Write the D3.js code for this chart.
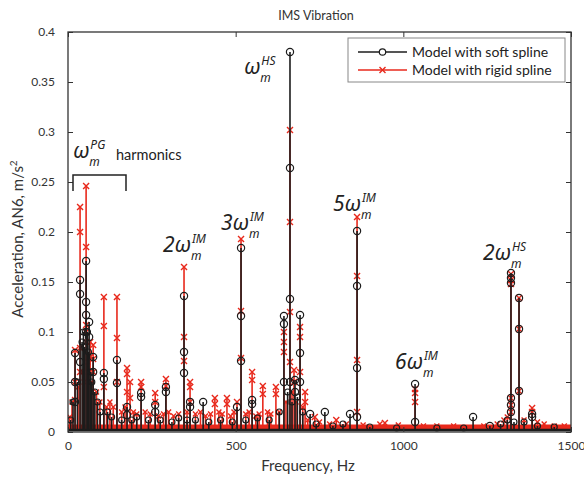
<!DOCTYPE html>
<html>
<head>
<meta charset="utf-8">
<script src="https://cdn.jsdelivr.net/npm/d3@7"></script>
<style>
    body { margin: 0; background: #fff; }
    svg { display: block; font-family: Lato, "Noto Sans", sans-serif; }
</style>
</head>
<body>
<div id="chart"></div>
<script>
// Axis ticks
const xTicks = [0, 500, 1000, 1500];
const yTicks = [0, 0.05, 0.1, 0.15, 0.2, 0.25, 0.3, 0.35, 0.4];

// Model with soft spline: stem frequency (Hz) and marker levels along each stem
const softHz = [21, 36, 54, 63, 75, 107, 146, 176, 218, 260, 292, 346, 364, 403, 504, 516, 549,
    644, 662, 677, 692, 722, 766, 841, 862, 1035, 1208, 1258, 1321, 1345, 1384];
const softLevels = [
    [0.079, 0.05, 0.03], [0.152, 0.138, 0.07], [0.171, 0.13, 0.117, 0.1], [0.11, 0.095],
    [0.075, 0.06], [0.059, 0.053], [0.072, 0.049], [0.025, 0.017], [0.039, 0.035],
    [0.027, 0.02], [0.045, 0.04], [0.136, 0.08, 0.059], [0.03, 0.025], [0.03], [0.025],
    [0.184, 0.116, 0.071], [0.032, 0.028], [0.116, 0.108, 0.05], [0.38, 0.264, 0.133, 0.05],
    [0.052, 0.04], [0.117, 0.079, 0.05], [0.018], [0.02], [0.018], [0.201, 0.146, 0.064, 0.015],
    [0.048, 0.01], [0.015], [0.006], [0.159, 0.154, 0.149, 0.034, 0.027, 0.02],
    [0.134, 0.103, 0.041], [0.018, 0.015]
];

// Model with rigid spline
const rigidHz = [21, 36, 54, 66, 75, 107, 146, 176, 185, 218, 260, 292, 346, 364, 438, 474, 504,
    516, 549, 581, 620, 644, 662, 674, 692, 707, 736, 800, 862, 945, 1035, 1321, 1345, 1384];
const rigidLevels = [
    [0.082, 0.05, 0.032], [0.225, 0.2, 0.084, 0.06], [0.246, 0.185, 0.107, 0.1, 0.09],
    [0.09, 0.075, 0.06], [0.087, 0.073, 0.06], [0.135, 0.106, 0.045], [0.135, 0.094, 0.05],
    [0.064, 0.058, 0.04], [0.05, 0.034], [0.05, 0.045], [0.039, 0.03], [0.053, 0.046],
    [0.165, 0.095, 0.071], [0.05, 0.045, 0.03], [0.034, 0.028], [0.034, 0.028], [0.03],
    [0.193, 0.121, 0.074], [0.06, 0.052], [0.046, 0.038], [0.045, 0.038], [0.1, 0.09, 0.08],
    [0.302, 0.21, 0.12, 0.07], [0.062, 0.05], [0.105, 0.095, 0.06], [0.04, 0.03], [0.015],
    [0.012], [0.215, 0.156, 0.072, 0.02], [0.009], [0.043, 0.039, 0.03],
    [0.158, 0.152, 0.148, 0.034, 0.027, 0.02], [0.134, 0.103, 0.041], [0.024, 0.02]
];

// Spectral floor (small lines between the peaks)
const softNoiseHz = [8, 15, 28, 42, 46, 50, 58, 61, 68, 71, 80, 88, 96, 118, 130, 160, 190, 205,
    240, 275, 310, 330, 355, 380, 420, 455, 490, 530, 565, 600, 630, 655, 668, 684, 700, 740,
    790, 820, 900, 980, 1100, 1180, 1290, 1310, 1330, 1360, 1400, 1450];
const softNoiseAmp = [0.012, 0.03, 0.05, 0.09, 0.1, 0.085, 0.1, 0.08, 0.06, 0.05, 0.04, 0.03,
    0.02, 0.02, 0.015, 0.012, 0.012, 0.015, 0.012, 0.012, 0.01, 0.014, 0.012, 0.012, 0.01,
    0.012, 0.01, 0.012, 0.014, 0.012, 0.02, 0.04, 0.03, 0.035, 0.02, 0.008, 0.006, 0.008,
    0.005, 0.004, 0.004, 0.004, 0.008, 0.012, 0.01, 0.01, 0.006, 0.005];
const rigidNoiseHz = [5, 12, 30, 44, 48, 60, 70, 85, 95, 115, 125, 135, 160, 170, 195, 205, 230,
    245, 270, 285, 300, 315, 330, 355, 380, 395, 410, 425, 450, 460, 485, 495, 530, 540, 560,
    570, 595, 605, 630, 650, 668, 680, 700, 715, 750, 780, 830, 880, 930, 985, 1060, 1100,
    1150, 1240, 1280, 1300, 1310, 1360, 1400, 1420, 1450, 1480];
const rigidNoiseAmp = [0.015, 0.03, 0.045, 0.06, 0.05, 0.07, 0.05, 0.04, 0.03, 0.025, 0.03,
    0.025, 0.02, 0.025, 0.02, 0.018, 0.02, 0.018, 0.016, 0.018, 0.02, 0.016, 0.018, 0.02,
    0.018, 0.02, 0.016, 0.018, 0.02, 0.018, 0.016, 0.02, 0.018, 0.02, 0.016, 0.018, 0.02,
    0.018, 0.02, 0.03, 0.04, 0.03, 0.025, 0.012, 0.01, 0.008, 0.008, 0.007, 0.008, 0.007,
    0.006, 0.006, 0.006, 0.006, 0.008, 0.012, 0.015, 0.012, 0.01, 0.008, 0.006, 0.006];
const softFloor = 0.002;
const rigidFloor = 0.005;

const seriesNames = ["Model with soft spline", "Model with rigid spline"];
const softColor = "#1c1c1c";
const rigidColor = "#e8291c";

const width = 584, height = 477;
const margin = {left: 68, right: 13, top: 32, bottom: 45};

const svg = d3.select("#chart").append("svg")
    .attr("width", width)
    .attr("height", height);

const x = d3.scaleLinear().domain([0, 1500]).range([margin.left, width - margin.right]);
const y = d3.scaleLinear().domain([0, 0.4]).range([height - margin.bottom, margin.top]);

svg.append("clipPath").attr("id", "plotClip")
    .append("rect")
    .attr("x", margin.left).attr("y", margin.top - 2)
    .attr("width", x.range()[1] - margin.left)
    .attr("height", y(0) - margin.top + 4);

const plot = svg.append("g").attr("clip-path", "url(#plotClip)");

function drawMarkers(g, points, color, marker, size)
{
    if (marker === "o") {
        g.append("g").selectAll("circle")
            .data(points)
            .join("circle")
            .attr("cx", d => x(d[0]))
            .attr("cy", d => y(d[1]))
            .attr("r", size)
            .attr("fill", "none")
            .attr("stroke", color)
            .attr("stroke-width", 1.2);
    } else {
        g.append("g").selectAll("path")
            .data(points)
            .join("path")
            .attr("d", d => {
                let cx = x(d[0]), cy = y(d[1]), s = size;
                return `M${cx-s},${cy-s}L${cx+s},${cy+s}M${cx-s},${cy+s}L${cx+s},${cy-s}`;
            })
            .attr("stroke", color)
            .attr("stroke-width", 1.4);
    }
}

function drawSeries(hz, levels, noiseHz, noiseAmp, floor, color, marker)
{
    let g = plot.append("g");

    // Noise floor
    g.append("line")
        .attr("x1", x(0)).attr("x2", x(1500))
        .attr("y1", y(floor)).attr("y2", y(floor))
        .attr("stroke", color)
        .attr("stroke-width", color === rigidColor ? 5 : 2.5);

    g.selectAll("line.noise")
        .data(noiseHz)
        .join("line")
        .attr("class", "noise")
        .attr("x1", d => x(d)).attr("x2", d => x(d))
        .attr("y1", y(floor)).attr("y2", (d, i) => y(noiseAmp[i]))
        .attr("stroke", color)
        .attr("stroke-width", 1.6);

    drawMarkers(g, noiseHz.map((h, i) => [h, noiseAmp[i]]), color, marker, marker === "o" ? 3 : 2.5);

    // Stems
    g.selectAll("line.stem")
        .data(hz)
        .join("line")
        .attr("class", "stem")
        .attr("x1", d => x(d)).attr("x2", d => x(d))
        .attr("y1", y(floor)).attr("y2", (d, i) => y(d3.max(levels[i])))
        .attr("stroke", color)
        .attr("stroke-width", 1.6);

    let points = [];
    hz.forEach((h, i) => levels[i].forEach(v => points.push([h, v])));
    drawMarkers(g, points, color, marker, marker === "o" ? 3.6 : 3);
}

drawSeries(rigidHz, rigidLevels, rigidNoiseHz, rigidNoiseAmp, rigidFloor, rigidColor, "x");
drawSeries(softHz, softLevels, softNoiseHz, softNoiseAmp, softFloor, softColor, "o");

// Axes, MATLAB style: ticks inside on all four sides
const fmt = d => d === 0 ? "0" : String(+d.toFixed(2));
const axisColor = "#333";

const xAxis = svg.append("g")
    .attr("transform", `translate(0,${y(0)})`)
    .call(d3.axisBottom(x).tickValues(xTicks).tickFormat(d3.format("d")).tickSizeInner(-5).tickSizeOuter(0).tickPadding(9));
const xTop = svg.append("g")
    .attr("transform", `translate(0,${y(0.4)})`)
    .call(d3.axisTop(x).tickValues(xTicks).tickFormat("").tickSizeInner(-5).tickSizeOuter(0));
const yAxis = svg.append("g")
    .attr("transform", `translate(${x(0)},0)`)
    .call(d3.axisLeft(y).tickValues(yTicks).tickFormat(fmt).tickSizeInner(-5).tickSizeOuter(0).tickPadding(13));
const yRight = svg.append("g")
    .attr("transform", `translate(${x(1500)},0)`)
    .call(d3.axisRight(y).tickValues(yTicks).tickFormat("").tickSizeInner(-5).tickSizeOuter(0));

[xAxis, xTop, yAxis, yRight].forEach(a => {
    a.select(".domain").remove();
    a.selectAll("line").attr("stroke", axisColor);
    a.selectAll("text")
        .attr("fill", "#333")
        .attr("font-size", 12)
        .attr("font-family", "Lato, sans-serif");
});

svg.append("rect")
    .attr("x", x(0)).attr("y", y(0.4))
    .attr("width", x(1500) - x(0))
    .attr("height", y(0) - y(0.4))
    .attr("fill", "none")
    .attr("stroke", axisColor)
    .attr("stroke-width", 1.3);

// Titles
svg.append("text")
    .attr("x", 316).attr("y", 20)
    .attr("text-anchor", "middle")
    .attr("font-size", 12.5)
    .attr("fill", "#333")
    .text("IMS Vibration");

svg.append("text")
    .attr("x", 308).attr("y", 471)
    .attr("text-anchor", "middle")
    .attr("font-size", 15)
    .attr("fill", "#333")
    .text("Frequency, Hz");

let yLabel = svg.append("text")
    .attr("transform", "translate(23,239) rotate(-90)")
    .attr("text-anchor", "middle")
    .attr("font-size", 15)
    .attr("fill", "#333");
yLabel.append("tspan").text("Acceleration, AN6, m/s");
yLabel.append("tspan").attr("font-size", 10).attr("dy", -6).text("2");

// Legend
const legend = svg.append("g");
legend.append("rect")
    .attr("x", 348).attr("y", 38)
    .attr("width", 217).attr("height", 44)
    .attr("fill", "#fff")
    .attr("stroke", "#888")
    .attr("stroke-width", 1);

seriesNames.forEach((name, i) => {
    let ly = 52 + i * 18;
    let color = i === 0 ? softColor : rigidColor;
    legend.append("line")
        .attr("x1", 358).attr("x2", 407)
        .attr("y1", ly).attr("y2", ly)
        .attr("stroke", color).attr("stroke-width", 1.5);
    if (i === 0) {
        legend.append("circle")
            .attr("cx", 382.5).attr("cy", ly).attr("r", 3.2)
            .attr("fill", "#fff").attr("stroke", color).attr("stroke-width", 1.2);
    } else {
        legend.append("path")
            .attr("d", `M${379.5},${ly-3}L${385.5},${ly+3}M${379.5},${ly+3}L${385.5},${ly-3}`)
            .attr("stroke", color).attr("stroke-width", 1.4);
    }
    legend.append("text")
        .attr("x", 412).attr("y", ly + 5)
        .attr("font-size", 14)
        .attr("fill", "#222")
        .text(name);
});

// Peak annotations
const greekFont = "'Noto Sans', 'DejaVu Sans', sans-serif";

function omegaLabel(lx, ly, prefix, sup)
{
    let main = svg.append("text")
        .attr("x", lx).attr("y", ly)
        .attr("font-family", greekFont)
        .attr("font-style", "italic")
        .attr("font-size", 21)
        .attr("fill", "#222")
        .text(prefix + "ω");
    let w = main.node().getComputedTextLength();
    svg.append("text")
        .attr("x", lx + w + 1).attr("y", ly - 9)
        .attr("font-family", greekFont)
        .attr("font-style", "italic")
        .attr("font-size", 12)
        .attr("fill", "#222")
        .text(sup);
    svg.append("text")
        .attr("x", lx + w).attr("y", ly + 8)
        .attr("font-family", greekFont)
        .attr("font-style", "italic")
        .attr("font-size", 12)
        .attr("fill", "#222")
        .text("m");
    return w;
}

omegaLabel(244, 74, "", "HS");
omegaLabel(163, 252, "2", "IM");
omegaLabel(221, 230, "3", "IM");
omegaLabel(333, 211, "5", "IM");
omegaLabel(395, 369, "6", "IM");
omegaLabel(483, 260, "2", "HS");
omegaLabel(73, 158, "", "PG");

svg.append("text")
    .attr("x", 116).attr("y", 160)
    .attr("font-size", 14.5)
    .attr("fill", "#222")
    .text("harmonics");

svg.append("path")
    .attr("d", "M73,191V175H126V191")
    .attr("fill", "none")
    .attr("stroke", "#222")
    .attr("stroke-width", 1.5);
</script>
</body>
</html>
